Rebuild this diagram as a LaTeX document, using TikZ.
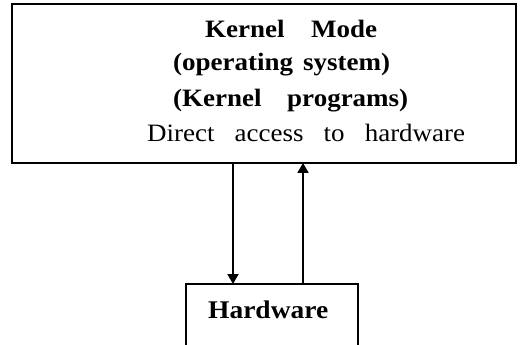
\documentclass[tikz,border=0pt]{standalone}
\usepackage{fontspec}
\usepackage{graphicx}
\setmainfont{Liberation Serif}[FakeStretch=1.08]
\usetikzlibrary{arrows.meta}
\tikzset{
  frame/.style={draw=black, line width=2.4pt},
  txt/.style={anchor=base west, inner sep=0pt, font=\fontsize{25}{25}\selectfont},
  flow/.style={line width=2pt, -{Triangle[length=10pt,width=11pt]}},
}
% a line of words spread to a fixed width
\newcommand{\spread}[2]{\makebox[#1][s]{#2}}
\begin{document}
\begin{tikzpicture}[x=1pt,y=-1pt]
  \useasboundingbox (0,0) rectangle (523,345);
  % kernel mode block
  \draw[frame] (12,4) rectangle (516,163);
  \coordinate (kb1) at (233,163);
  \coordinate (kb2) at (303,163);
  \node[txt] (l1) at (205,38) {\bfseries\spread{172pt}{Kernel\hfill Mode}};
  \node[txt] (l2) at (173,71) {\bfseries\spread{217pt}{(operating\hfill system)}};
  \node[txt] (l3) at (173,107) {\bfseries\spread{235pt}{(Kernel\hfill programs)}};
  \node[txt] (l4) at (147,142) {\spread{318pt}{Direct\hfill access\hfill to\hfill hardware}};
  % hardware block
  \draw[frame] (186,284) rectangle (358,346);
  \coordinate (hb1) at (233,284);
  \coordinate (hb2) at (303,284);
  \node[txt, font=\fontsize{24}{24}\selectfont\bfseries] (hw) at (208,319) {\resizebox{120pt}{!}{\vphantom{H}Hardware}};
  % connectors
  \draw[flow] (kb1) -- (hb1);
  \draw[flow] (hb2) -- (kb2);
\end{tikzpicture}
\end{document}
